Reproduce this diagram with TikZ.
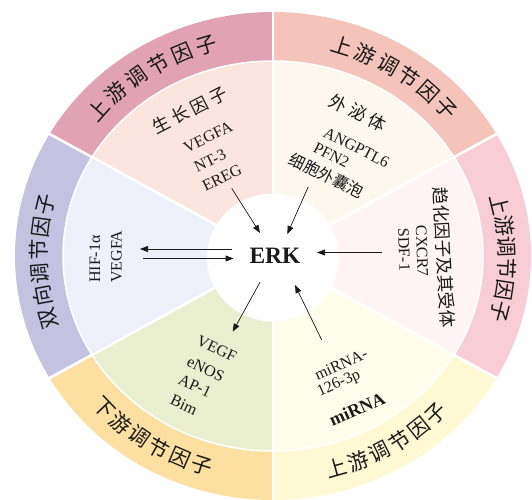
\documentclass[tikz,border=0pt]{standalone}
\usepackage{fontspec}
\setmainfont{Liberation Serif}
\newfontfamily\cjk{Noto Sans CJK SC}
\usetikzlibrary{arrows.meta}
\definecolor{tlo}{HTML}{E0A2B4}\definecolor{tli}{HTML}{FCE4DF}
\definecolor{tro}{HTML}{F4C3BA}\definecolor{tri}{HTML}{FDF8EE}
\definecolor{rro}{HTML}{F8CDD6}\definecolor{rri}{HTML}{FEF3F5}
\definecolor{bro}{HTML}{FEF8D3}\definecolor{bri}{HTML}{FEFDEC}
\definecolor{blo}{HTML}{FDDFA2}\definecolor{bli}{HTML}{E9EFCF}
\definecolor{llo}{HTML}{C3C3E1}\definecolor{lli}{HTML}{EEF1F9}
\definecolor{ink}{HTML}{1A1A1A}
\tikzset{
  ringch/.style={font=\cjk\fontsize{21}{21}\selectfont, inner sep=0pt, text=ink},
  hd/.style={font=\cjk\fontsize{17.5}{18}\selectfont, inner sep=0pt, text=ink},
  en/.style={font=\fontsize{16}{18}\selectfont, inner sep=0pt, text=ink},
  arr/.style={draw=ink, line width=0.7pt, -{Triangle[length=8pt,width=6pt]}}
}
\begin{document}
\begin{tikzpicture}[x=1pt,y=1pt]
\useasboundingbox (0,0) rectangle (532,499);
\coordinate (C) at (273,243);
\def\RXo{258}\def\RYo{244}\def\RXi{210}\def\RYi{195}
\foreach \a/\co/\ci in {90/tlo/tli, 30/tro/tri, -30/rro/rri, -90/bro/bri, -150/blo/bli, 150/llo/lli} {
  \fill[\co] (C) -- ++({\RXo*cos(\a)},{\RYo*sin(\a)}) arc[start angle=\a, end angle=\a+60, x radius=\RXo, y radius=\RYo] -- cycle;
  \fill[\ci] (C) -- ++({\RXi*cos(\a)},{\RYi*sin(\a)}) arc[start angle=\a, end angle=\a+60, x radius=\RXi, y radius=\RYi] -- cycle;
}
\draw[white, line width=1.5pt] (C) ellipse[x radius=\RXi, y radius=\RYi];
\foreach \a in {30,90,150,210,270,330} {
  \draw[white, line width=2.6pt] (C) -- ++({1.03*\RXo*cos(\a)},{1.03*\RYo*sin(\a)});
}
\fill[white] (273,241.5) ellipse[x radius=66, y radius=64];

% outer ring labels
\foreach \ch [count=\i from 0] in {上,游,调,节,因,子} {
  \pgfmathsetmacro\ang{122.5-(\i-2.5)*6.4}
  \node[ringch, rotate=\ang-90] (tl\i) at ({273+234*cos(\ang)},{243+220*sin(\ang)}) {\ch};
}
\foreach \ch [count=\i from 0] in {上,游,调,节,因,子} {
  \pgfmathsetmacro\ang{57.5-(\i-2.5)*6.1}
  \node[ringch, rotate=\ang-90] (tr\i) at ({273+234*cos(\ang)},{243+220*sin(\ang)}) {\ch};
}
\foreach \ch [count=\i from 0] in {上,游,调,节,因,子} {
  \pgfmathsetmacro\ang{-0.5-(\i-2.5)*5.6}
  \node[ringch, rotate=\ang-90] (rr\i) at ({273+234*cos(\ang)},{243+220*sin(\ang)}) {\ch};
}
\foreach \ch [count=\i from 0] in {上,游,调,节,因,子} {
  \pgfmathsetmacro\ang{300+(\i-2.5)*5.7}
  \node[ringch, rotate=\ang+90] (br\i) at ({273+234*cos(\ang)},{243+220*sin(\ang)}) {\ch};
}
\foreach \ch [count=\i from 0] in {下,游,调,节,因,子} {
  \pgfmathsetmacro\ang{238+(\i-2.5)*5.7}
  \node[ringch, rotate=\ang+90] (bl\i) at ({273+234*cos(\ang)},{243+220*sin(\ang)}) {\ch};
}
\foreach \ch [count=\i from 0] in {双,向,调,节,因,子} {
  \pgfmathsetmacro\ang{181.5-(\i-2.5)*6.0}
  \node[ringch, rotate=\ang-90] (ll\i) at ({273+234*cos(\ang)},{243+220*sin(\ang)}) {\ch};
}

% top-left: growth factors
\node[hd, rotate=27] (gf) at (190,389) {生\kern4pt 长\kern4pt 因\kern4pt 子};
\node[en, rotate=26] (vegfa1) at (208,362) {VEGFA};
\node[en, rotate=26] (nt3) at (210,338) {NT-3};
\node[en, rotate=26] (ereg) at (222,321) {EREG};

% top-right: exosomes
\node[hd, rotate=-26] (exo) at (358,386.5) {外\kern4pt 泌\kern4pt 体};
\node[en, rotate=-27] (angptl) at (356.5,351.5) {ANGPTL6};
\node[en, rotate=-27] (pfn) at (331.5,344) {PFN2};
\node[hd, font=\cjk\fontsize{16}{16}\selectfont, rotate=-26] (ev) at (326.5,323) {细胞外囊泡};

% right: chemokines
\node[hd, rotate=-87] (chemo) at (444,241.5) {趋化因子及其受体};
\node[en, rotate=-88] (cxcr) at (422,248) {CXCR7};
\node[en, rotate=-88] (sdf) at (404,249.5) {SDF-1};

% left: bidirectional
\node[en, rotate=90, anchor=west] (hif) at (95,216) {HIF-1α};
\node[en, rotate=90, anchor=west] (vegfa2) at (116.5,216) {VEGFA};

% bottom-left: downstream
\node[en, rotate=-25] (vegf) at (216.7,150) {VEGF};
\node[en, rotate=-25] (enos) at (205.7,130) {eNOS};
\node[en, rotate=-25] (ap1) at (195,113.3) {AP-1};
\node[en, rotate=-25] (bim) at (184,94) {Bim};

% bottom-right: miRNA
\node[en, rotate=24] (mir1) at (341,135) {miRNA-};
\node[en, rotate=24] (mir2) at (339,115) {126-3p};
\node[en, font=\bfseries\fontsize{18}{18}\selectfont, rotate=24] (mir) at (357,90) {miRNA};

% centre
\node[font=\bfseries\fontsize{23.5}{24}\selectfont, text=ink, inner sep=0pt] (erk) at (275,243) {ERK};

% arrows
\coordinate (a1s) at (231.7,310.7); \coordinate (a1e) at (260,266);
\coordinate (a2s) at (308.3,312.3); \coordinate (a2e) at (287.3,265);
\coordinate (a3s) at (381.7,246.5); \coordinate (a3e) at (317,246.5);
\coordinate (a4s) at (231.7,250);   \coordinate (a4e) at (140,250);
\coordinate (a5s) at (143,240.5);   \coordinate (a5e) at (233.5,240.5);
\coordinate (a6s) at (260,216.8);   \coordinate (a6e) at (232.7,167.3);
\coordinate (a7s) at (321.7,159);   \coordinate (a7e) at (295,214);
\draw[arr] (a1s) -- (a1e);
\draw[arr] (a2s) -- (a2e);
\draw[arr] (a3s) -- (a3e);
\draw[arr] (a4s) -- (a4e);
\draw[arr] (a5s) -- (a5e);
\draw[arr] (a6s) -- (a6e);
\draw[arr] (a7s) -- (a7e);
\end{tikzpicture}
\end{document}
